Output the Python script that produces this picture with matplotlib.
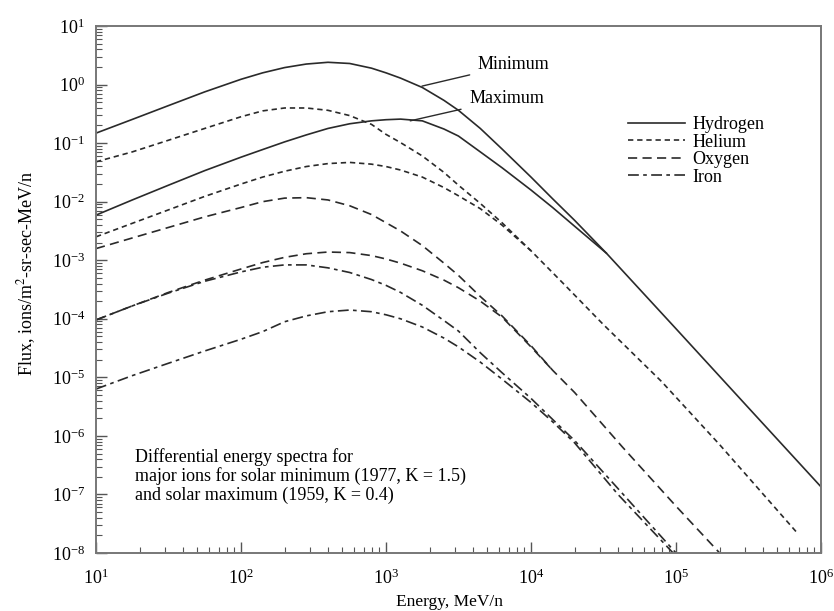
import numpy as np
import matplotlib
matplotlib.use("Agg")
from matplotlib import pyplot as plt
from matplotlib.ticker import LogLocator, NullFormatter

plt.rcParams['font.family'] = ['Liberation Serif', 'DejaVu Serif']
plt.rcParams['mathtext.fontset'] = 'stix'

# energy grid in MeV/n shared by the low-energy part of every curve
grid_e = [10, 17.8, 31.6, 56.2, 100, 141, 200, 282, 398, 562, 794, 1000,
          1260, 1780, 2510, 3160, 4470, 6310, 10000, 14100, 20000]

# flux, ions/m^2-sr-sec-MeV/n
h_min_f = [0.148, 0.254, 0.437, 0.750, 1.23, 1.585, 1.95, 2.24, 2.40, 2.29, 1.905, 1.585,
           1.288, 0.891, 0.537, 0.363, 0.178, 0.0794, 0.0263, 0.0112, 4.79e-3]
h_max_f = [5.89e-3, 0.0107, 0.0191, 0.0339, 0.0575, 0.0776, 0.105, 0.138, 0.178, 0.214, 0.240, 0.251,
           0.257, 0.240, 0.174, 0.132, 0.0708, 0.0380, 0.0158, 7.94e-3, 3.80e-3]
h_tail_e = [33100, 1e5, 3.16e5, 1e6]
h_tail_f = [1.32e-3, 6.76e-5, 3.02e-6, 1.35e-7]

he_min_f = [0.0479, 0.0708, 0.112, 0.178, 0.282, 0.355, 0.398, 0.398, 0.363, 0.295, 0.209, 0.141,
            0.102, 0.0603, 0.0316, 0.0191, 9.33e-3, 4.37e-3, 1.45e-3]
he_max_f = [2.51e-3, 4.27e-3, 7.24e-3, 0.0123, 0.0200, 0.0263, 0.0331, 0.0398, 0.0447, 0.0468, 0.0437, 0.0398,
            0.0347, 0.0263, 0.0174, 0.0126, 7.59e-3, 3.98e-3, 1.45e-3]
he_tail_e = [16600, 31600, 79400, 2e5, 6.76e5]
he_tail_f = [4.07e-4, 7.94e-5, 8.51e-6, 7.08e-7, 2.29e-8]

o_min_f = [1.58e-3, 2.40e-3, 3.63e-3, 5.50e-3, 7.94e-3, 0.0100, 0.0115, 0.0117, 0.0107, 8.51e-3, 6.03e-3, 4.37e-3,
           3.16e-3, 1.78e-3, 8.91e-4, 5.50e-4, 2.40e-4, 1.12e-4, 3.47e-5, 1.32e-5, 5.50e-6]
o_max_f = [9.55e-5, 1.66e-4, 2.82e-4, 4.57e-4, 7.08e-4, 9.12e-4, 1.12e-3, 1.29e-3, 1.38e-3, 1.35e-3, 1.20e-3, 1.05e-3,
           8.91e-4, 6.61e-4, 4.57e-4, 3.39e-4, 2.00e-4, 1.07e-4, 3.31e-5, 1.32e-5]
o_tail_e = [42700, 1e5, 2e5]
o_tail_f = [6.46e-7, 6.31e-8, 1e-8]

fe_min_f = [9.55e-5, 1.66e-4, 2.75e-4, 4.37e-4, 6.31e-4, 7.59e-4, 8.32e-4, 8.32e-4, 7.41e-4, 6.17e-4, 4.68e-4, 3.72e-4,
            2.82e-4, 1.70e-4, 9.33e-5, 6.17e-5, 2.63e-5, 1.20e-5, 4.37e-6, 1.91e-6, 8.32e-7]
fe_max_f = [6.31e-6, 1.07e-5, 1.74e-5, 2.82e-5, 4.47e-5, 6.03e-5, 8.91e-5, 1.12e-4, 1.32e-4, 1.41e-4, 1.32e-4, 1.17e-4,
            1.00e-4, 7.24e-5, 4.68e-5, 3.31e-5, 1.82e-5, 9.33e-6, 3.72e-6, 1.74e-6, 7.59e-7]
fe_min_tail_e = [39800, 1e5]
fe_min_tail_f = [1.26e-7, 1e-8]
fe_max_tail_e = [39800, 95500]
fe_max_tail_f = [1.0e-7, 1e-8]

x_ticks = [1e1, 1e2, 1e3, 1e4, 1e5, 1e6]
y_ticks = [1e-8, 1e-7, 1e-6, 1e-5, 1e-4, 1e-3, 1e-2, 1e-1, 1e0, 1e1]

ink = '#2a2a2a'
styles = {
    'Hydrogen': dict(linestyle='-'),
    'Helium': dict(linestyle=(0, (3.2, 2.3))),
    'Oxygen': dict(linestyle=(0, (5.5, 3.2))),
    'Iron': dict(linestyle=(0, (6.5, 2.6, 2.2, 2.6))),
}

def curve(flux, tail_e, tail_f):
    n = len(flux)
    return grid_e[:n] + tail_e, flux + tail_f

# solar-maximum curves stop where they join the solar-minimum ones,
# so the shared high-energy tail is drawn only once
series = [
    ('Hydrogen', curve(h_min_f, h_tail_e, h_tail_f), curve(h_max_f, h_tail_e[:1], h_tail_f[:1])),
    ('Helium', curve(he_min_f, he_tail_e, he_tail_f), curve(he_max_f, [], [])),
    ('Oxygen', curve(o_min_f, o_tail_e, o_tail_f), curve(o_max_f, [], [])),
    ('Iron', curve(fe_min_f, fe_min_tail_e, fe_min_tail_f), curve(fe_max_f, fe_max_tail_e, fe_max_tail_f)),
]

fig = plt.figure(figsize=(8.34, 6.11), dpi=100)
ax = fig.add_axes([96/834, 58/611, 725/834, 527/611])

for name, (e1, f1), (e2, f2) in series:
    ax.plot(e1, f1, color=ink, lw=1.2, label=name, **styles[name])
    ax.plot(e2, f2, color=ink, lw=1.2, **styles[name])

ax.set_xscale('log')
ax.set_yscale('log')
ax.set_xlim(10, 1e6)
ax.set_ylim(1e-8, 10)

ax.set_xticks(x_ticks)
ax.set_yticks(y_ticks)
for a in (ax.xaxis, ax.yaxis):
    a.set_minor_locator(LogLocator(base=10, subs=np.arange(2, 10), numticks=100))
    a.set_minor_formatter(NullFormatter())
ax.tick_params(which='both', direction='in', top=False, right=False,
               labelsize=13, color='#555555')
ax.tick_params(axis='x', pad=11)
ax.tick_params(axis='y', pad=8)
ax.tick_params(which='major', length=8, width=1.0)
ax.tick_params(which='minor', length=4, width=0.8)
for s in ax.spines.values():
    s.set_color('#777777')
    s.set_linewidth(1.4)

ax.set_xlabel('Energy, MeV/n', fontsize=12.5)
ax.set_ylabel('Flux, ions/m$^2$-sr-sec-MeV/n', fontsize=13)
ax.xaxis.set_label_coords(0.487, -0.077)
ax.yaxis.set_label_coords(-0.08, 0.53)

leg = ax.legend(loc='upper left', bbox_to_anchor=(0.734, 0.829), frameon=False,
                fontsize=13, handlelength=3.15, handletextpad=0.4,
                labelspacing=0.03, borderpad=0, borderaxespad=0)

ax.annotate('Minimum', xy=(1770, 0.94), xytext=(4300, 2.2),
            fontsize=13, va='center', ha='left',
            arrowprops=dict(arrowstyle='-', color=ink, lw=1.0, shrinkA=4, shrinkB=0))
ax.annotate('Maximum', xy=(1470, 0.24), xytext=(3750, 0.57),
            fontsize=13, va='center', ha='left',
            arrowprops=dict(arrowstyle='-', color=ink, lw=1.0, shrinkA=4, shrinkB=0))

ax.text(0.054, 0.199, 'Differential energy spectra for\n'
        'major ions for solar minimum (1977, K = 1.5)\n'
        'and solar maximum (1959, K = 0.4)',
        transform=ax.transAxes, fontsize=13, va='top', ha='left', linespacing=1.1)

fig.savefig('out.png', dpi=100)
